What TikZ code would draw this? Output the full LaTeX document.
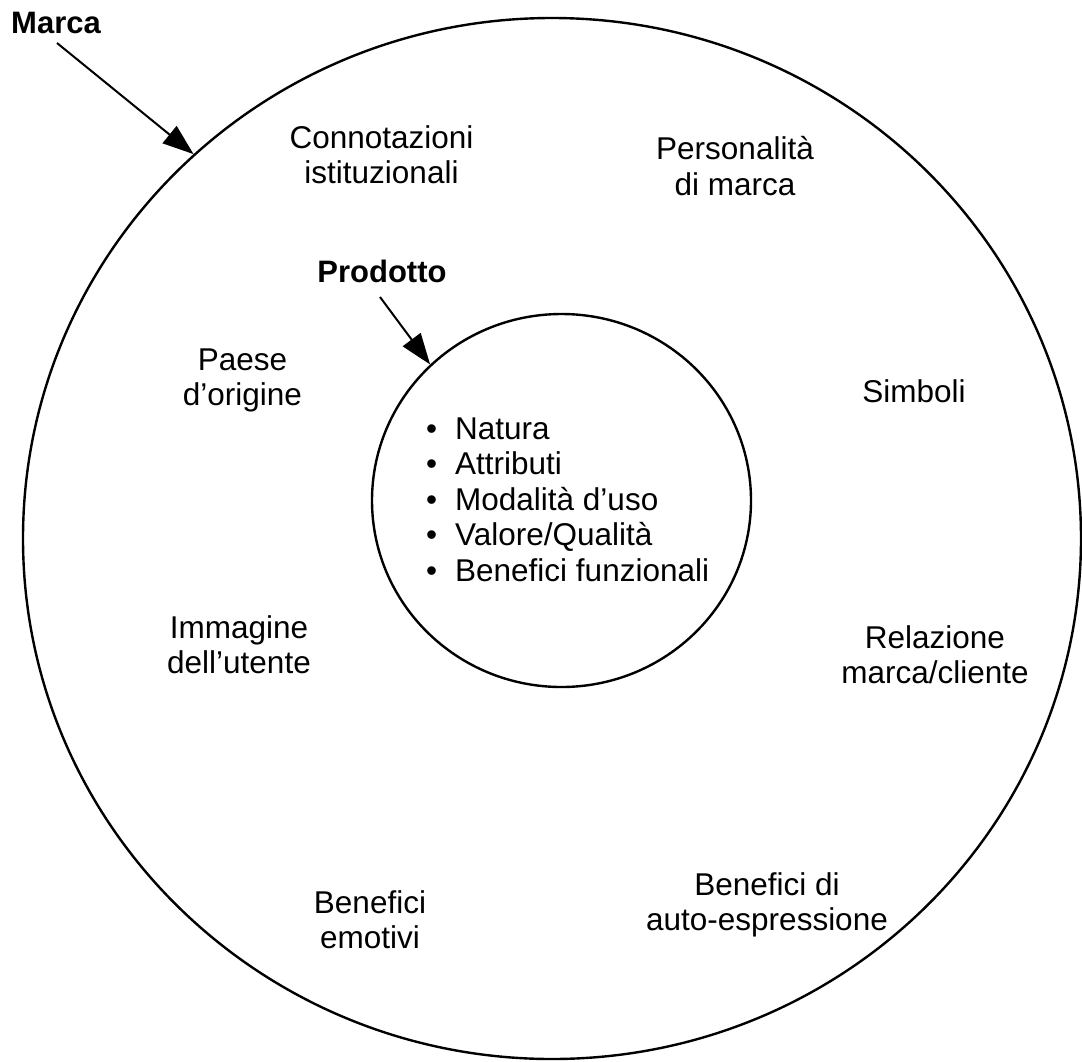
\documentclass[tikz,border=0pt]{standalone}
\usepackage{fontspec}
\setmainfont{Liberation Sans}
\usetikzlibrary{shapes.geometric,arrows.meta}
\begin{document}
\begin{tikzpicture}[x=1pt,y=-1pt,
  ring/.style={draw,ellipse,line width=2.4pt,inner sep=0pt},
  lbl/.style={inner sep=0pt,align=center,anchor=base,
    font=\fontsize{31.5}{35.5}\selectfont},
  head/.style={inner sep=0pt,anchor=base,font=\fontsize{31}{35}\selectfont\bfseries},
  pointer/.style={line width=2pt,-{Triangle[length=31pt,width=22pt]}}]
\useasboundingbox (0,0) rectangle (1082,1061);

% brand ring and product core
\node[ring,minimum width=1058pt,minimum height=1041pt] (outer) at (552,538.5) {};
\node[ring,minimum width=379pt,minimum height=373pt] (inner) at (561.5,500.5) {};

% titles with their arrows
\node[head] (marca) at (56,33) {Marca};
\node[head] (prodotto) at (382,282) {Prodotto};
\coordinate (marcaTail) at (57,43);
\coordinate (prodTail) at (380,297);
\draw[pointer] (marcaTail) -- (outer.133);
\draw[pointer] (prodTail) -- (inner.134);

% product attributes (placed by the baseline of the last line)
\node[inner sep=0pt,anchor=base west,align=left,
  font=\fontsize{31.5}{35.5}\selectfont] (attrs) at (426,581)
  {\makebox[29pt][l]{\textbullet}Natura\\
   \makebox[29pt][l]{\textbullet}Attributi\\
   \makebox[29pt][l]{\textbullet}Modalità d’uso\\
   \makebox[29pt][l]{\textbullet}Valore/Qualità\\
   \makebox[29pt][l]{\textbullet}Benefici funzionali};

% brand associations (placed by the baseline of the last line)
\node[lbl] (conn) at (381.5,183.5) {Connotazioni\\istituzionali};
\node[lbl] (pers) at (735,195) {Personalità\\di marca};
\node[lbl] (paese) at (242.5,405.5) {Paese\\d’origine};
\node[lbl] (simb) at (914,402) {Simboli};
\node[lbl] (imm) at (239,673.5) {Immagine\\dell’utente};
\node[lbl] (rel) at (935,683.5) {Relazione\\marca/cliente};
\node[lbl] (emo) at (370,948.5) {Benefici\\emotivi};
\node[lbl] (auto) at (767,930.5) {Benefici di\\auto-espressione};
\end{tikzpicture}
\end{document}
